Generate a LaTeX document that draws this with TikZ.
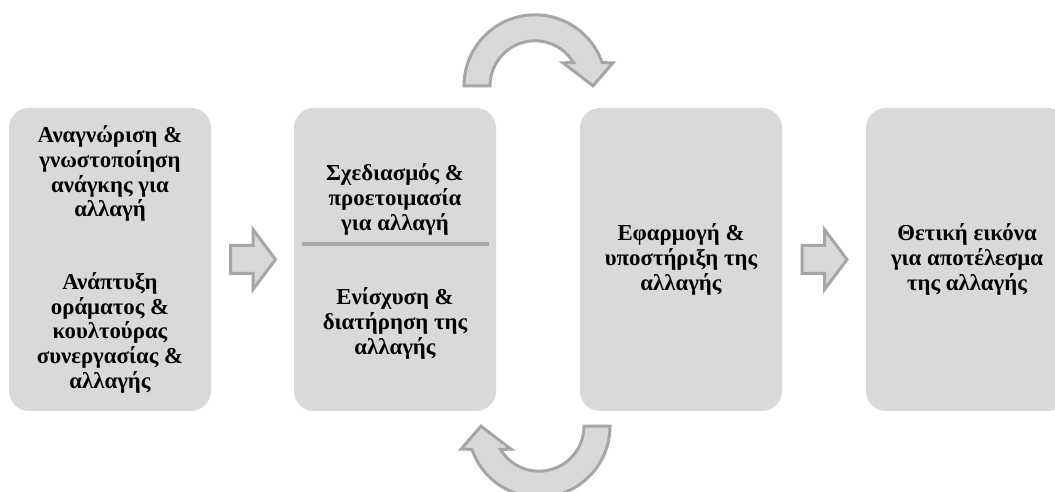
\documentclass[tikz,border=0pt]{standalone}
\usepackage{fontspec}
\setmainfont{Liberation Serif}
\usetikzlibrary{calc}
\definecolor{boxgray}{HTML}{D9D9D9}
\definecolor{edgegray}{HTML}{A6A6A6}
\begin{document}
\begin{tikzpicture}[x=1pt,y=1pt,
  stagefont/.style={font=\fontsize{22.8}{24.6}\selectfont\bfseries},
  stage/.style={fill=boxgray, rounded corners=20pt, minimum width=202pt,
    minimum height=303pt, inner sep=0pt, align=center, stagefont},
  caption/.style={align=center, inner sep=0pt, stagefont},
  blockarrow/.style={fill=boxgray, draw=edgegray, line width=3pt, line join=miter},
  divider/.style={draw=edgegray, line width=4pt}]
\useasboundingbox (0,0) rectangle (1055,492);
\clip (0,0) rectangle (1055,492);
\fill[white] (0,0) rectangle (1055,492);

% the four stages
\node[stage] (b1) at (110,232.5) {Αναγνώριση \&\\γνωστοποίηση\\ανάγκης για\\αλλαγή\\[48.5pt]Ανάπτυξη\\οράματος \&\\κουλτούρας\\συνεργασίας \&\\αλλαγής};
\node[stage] (b2) at (395,232.5) {};
\node[caption] (plan) at ($(b2.center)+(0,60)$) {Σχεδιασμός \&\\προετοιμασία\\για αλλαγή};
\coordinate (dl) at ($(b2.center)+(-93.5,15.5)$);
\coordinate (dr) at ($(b2.center)+(93.5,15.5)$);
\draw[divider] (dl) -- (dr);
\node[caption] (keep) at ($(b2.center)+(0,-64)$) {Ενίσχυση \&\\διατήρηση της\\αλλαγής};
\node[stage] (b3) at (681,232.5) {Εφαρμογή \&\\υποστήριξη της\\αλλαγής};
\node[stage] (b4) at (967,232.5) {Θετική εικόνα\\για αποτέλεσμα\\της αλλαγής};

% straight block arrows between stages
\coordinate (m1) at ($(b1.east)!0.5!(b2.west)$);
\coordinate (m2) at ($(b3.east)!0.5!(b4.west)$);
\foreach \m in {m1,m2}{
  \draw[blockarrow] ($(\m)+(-22,14)$) -- ($(\m)+(0.5,14)$) -- ($(\m)+(0.5,30)$)
    -- ($(\m)+(23,0)$) -- ($(\m)+(0.5,-30)$) -- ($(\m)+(0.5,-14)$)
    -- ($(\m)+(-22,-14)$) -- cycle;
}

% curved arrows forming the loop between stages 2 and 3
\coordinate (ct) at ($($(b2.north)!0.5!(b3.north)$)+(-3,22)$);
\coordinate (cb) at ($($(b2.south)!0.5!(b3.south)$)+(1,-15)$);
\draw[blockarrow] ($(ct)+(180:71)$) arc[start angle=180, end angle=19, radius=71]
  -- ($(ct)+(16.4:81.3)$) -- ($(ct)+(0:58)$) -- ($(ct)+(39.4:36.2)$)
  -- ($(ct)+(31:45)$) arc[start angle=31, end angle=180, radius=45] -- cycle;
\draw[blockarrow] ($(cb)+(0:71)$) arc[start angle=360, end angle=199, radius=71]
  -- ($(cb)+(196.4:81.3)$) -- ($(cb)+(180:58)$) -- ($(cb)+(219.4:36.2)$)
  -- ($(cb)+(211:45)$) arc[start angle=211, end angle=360, radius=45] -- cycle;
\end{tikzpicture}
\end{document}
